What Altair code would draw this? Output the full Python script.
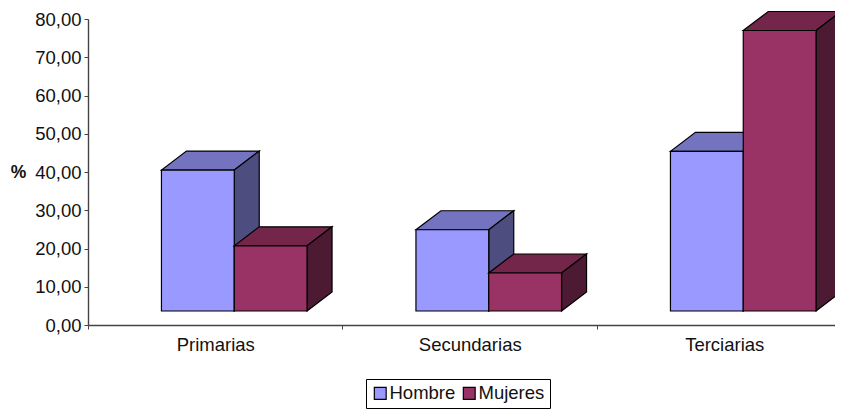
import altair as alt
import pandas as pd

categories = ["Primarias", "Secundarias", "Terciarias"]
series_names = ["Hombre", "Mujeres"]
hombre = [40.5, 24.9, 45.4]
mujeres = [20.7, 13.6, 77.0]

front_colors = ["#9999FF", "#993366"]
top_colors = ["#7373BF", "#732649"]
side_colors = ["#4D4D80", "#4D1A33"]

PLOT_W = 747
PLOT_H = 306
PX_X = 254.5        # pixels per category
PX_Y = PLOT_H / 80  # pixels per value unit
SHIFT = 19 / PX_X
BAR_W = 72.8 / PX_X
DX = 25 / PX_X
DY = 19 / PX_Y
FLOOR = 14 / PX_Y
XMAX = PLOT_W / PX_X

x_scale = alt.Scale(domain=[0, XMAX], nice=False, zero=False)
y_scale = alt.Scale(domain=[0, 80], nice=False)

x_axis = alt.Axis(
    title=None, values=[0, 0.5, 1, 1.5, 2, 2.5], grid=False,
    labelExpr="datum.value == 0.5 ? '%s' : datum.value == 1.5 ? '%s' : datum.value == 2.5 ? '%s' : ''" % tuple(categories),
    tickOpacity={"condition": {"test": "datum.value % 1 != 0", "value": 0}, "value": 1},
    labelAngle=0, labelFont="Liberation Sans", labelFontSize=18.5, labelColor="#111111",
    labelPadding=6, labelOverlap=False, labelFlush=False,
    tickSize=4, tickColor="#444444", domainColor="#444444", domainWidth=1.4,
)
y_axis = alt.Axis(
    title="%", titleAngle=0, titleFont="Liberation Sans", titleFontSize=17.5, titleFontWeight="bold",
    titleColor="#111111", titleX=-70, titleY=153, titleAlign="center", titleBaseline="middle",
    values=list(range(0, 81, 10)), grid=False,
    labelExpr="replace(format(datum.value, '.2f'), '.', ',')",
    labelFont="Liberation Sans", labelFontSize=18.5, labelColor="#111111", labelPadding=3,
    tickSize=4, tickColor="#444444", domainColor="#444444", domainWidth=1.4,
)

layers = []
for s, (name, vals) in enumerate(zip(series_names, [hombre, mujeres])):
    fronts, faces = [], []
    for i, (cat, v) in enumerate(zip(categories, vals)):
        left = i + 0.5 + SHIFT - BAR_W + s * BAR_W
        right = left + BAR_W
        fronts.append({"serie": name, "cat": cat, "l": left, "r": right, "lo": FLOOR, "hi": v})
        top = [(left, v, v), (left + DX, v, v + DY), (right, v, v + DY), (right + DX, v + DY, v + DY)]
        side = [(right, FLOOR, v), (right + DX, FLOOR + DY, v + DY)]
        for x, lo, hi in top:
            faces.append({"face": f"{cat}-top", "x": x, "lo": lo, "hi": hi, "fill": top_colors[s]})
        for x, lo, hi in side:
            faces.append({"face": f"{cat}-side", "x": x, "lo": lo, "hi": hi, "fill": side_colors[s]})
    layers.append(
        alt.Chart(pd.DataFrame(faces)).mark_area(stroke="#000000", strokeWidth=1.2, opacity=1, interpolate="linear").encode(
            x=alt.X("x:Q", scale=x_scale, axis=x_axis),
            y=alt.Y("lo:Q", scale=y_scale, axis=y_axis, stack=None),
            y2="hi:Q",
            fill=alt.Fill("fill:N", scale=None),
            detail="face:N",
        )
    )
    layers.append(
        alt.Chart(pd.DataFrame(fronts)).mark_rect(stroke="#000000", strokeWidth=1.2).encode(
            x=alt.X("l:Q", scale=x_scale, axis=x_axis),
            x2="r:Q",
            y=alt.Y("lo:Q", scale=y_scale, axis=y_axis),
            y2="hi:Q",
            fill=alt.Fill(
                "serie:N",
                scale=alt.Scale(domain=series_names, range=front_colors),
                legend=alt.Legend(
                    title=None, orient="none", legendX=278, legendY=360, direction="horizontal", columns=2,
                    symbolType="square", symbolSize=140, symbolStrokeColor="#000000", symbolStrokeWidth=1.2,
                    labelFont="Liberation Sans", labelFontSize=18.5, labelColor="#111111", labelOffset=0,
                    columnPadding=4, padding=5, strokeColor="#000000", fillColor="#FFFFFF",
                ),
            ),
        )
    )

chart = alt.layer(*layers).properties(
    width=PLOT_W, height=PLOT_H,
    autosize=alt.AutoSizeParams(type="none"),
    padding={"left": 80, "top": 11, "right": 0, "bottom": 85},
).configure_view(stroke=None)

chart.save("out.html", embed_options={"renderer": "svg", "actions": False})
